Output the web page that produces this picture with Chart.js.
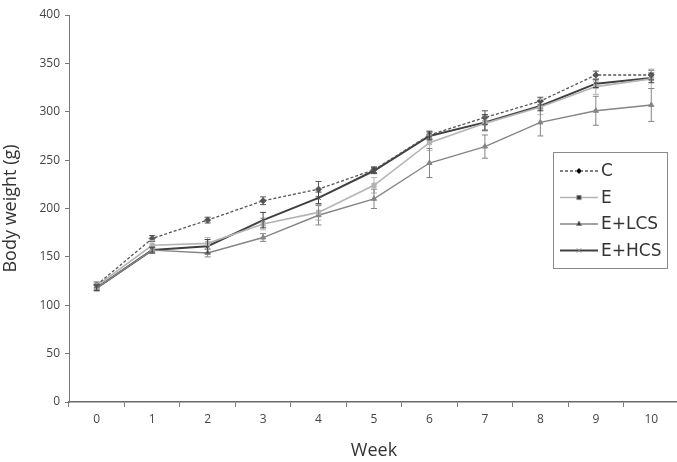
<!DOCTYPE html>
<html>
<head>
<meta charset="utf-8">
<script src="https://cdn.jsdelivr.net/npm/chart.js@4"></script>
<style>
  html, body { margin: 0; padding: 0; background: #fff; overflow: hidden; }
  #wrap { position: relative; width: 684px; height: 462px; }
</style>
</head>
<body>
<div id="wrap"><canvas id="chart"></canvas></div>
<script>
// weeks on the x axis
const weeks = ['0', '1', '2', '3', '4', '5', '6', '7', '8', '9', '10'];

// mean body weight (g) per group
const cValues    = [121, 169, 188, 208, 220, 240, 276, 294, 311, 338, 338];
const eValues    = [120, 162, 164, 184, 196, 224, 268, 288, 305, 326, 334];
const lcsValues  = [118, 157, 154, 170, 193, 210, 247, 264, 289, 301, 307];
const hcsValues  = [118, 157, 161, 188, 211, 239, 275, 289, 306, 329, 335];

// error bar half-widths (g)
const cErr   = [3, 3, 3, 4, 8, 3, 4, 7, 4, 4, 5];
const eErr   = [3, 5, 6, 6, 8, 8, 8, 8, 8, 8, 10];
const lcsErr = [3, 3, 4, 4, 10, 10, 15, 12, 14, 15, 17];
const hcsErr = [3, 3, 7, 8, 6, 3, 4, 8, 5, 4, 5];

const yTicks = [0, 50, 100, 150, 200, 250, 300, 350, 400];

const FONT = '"Open Sans", "DejaVu Sans", sans-serif';

// vertical error bars drawn from the value scale
const errorBars = {
    id: 'errorBars',
    afterDatasetsDraw(chart) {
        const ctx = chart.ctx;
        const yScale = chart.scales.y;
        chart.data.datasets.forEach((ds, di) => {
            if (!ds.errors) return;
            const meta = chart.getDatasetMeta(di);
            ctx.save();
            ctx.strokeStyle = ds.borderColor;
            ctx.lineWidth = 1;
            meta.data.forEach((pt, i) => {
                const top = yScale.getPixelForValue(ds.data[i] + ds.errors[i]);
                const bot = yScale.getPixelForValue(ds.data[i] - ds.errors[i]);
                ctx.beginPath();
                ctx.moveTo(pt.x, top); ctx.lineTo(pt.x, bot);
                ctx.moveTo(pt.x - 3, top); ctx.lineTo(pt.x + 3, top);
                ctx.moveTo(pt.x - 3, bot); ctx.lineTo(pt.x + 3, bot);
                ctx.stroke();
            });
            ctx.restore();
        });
    }
};

// boxed legend with line + marker samples
const boxLegend = {
    id: 'boxLegend',
    afterDraw(chart) {
        const ctx = chart.ctx;
        const x0 = 553, y0 = 152, w = 114, h = 116;
        ctx.save();
        ctx.strokeStyle = '#8a8a8a';
        ctx.lineWidth = 1;
        ctx.strokeRect(x0 + 0.5, y0 + 0.5, w, h);
        chart.data.datasets.forEach((ds, i) => {
            const y = y0 + 19 + i * 26.5;
            ctx.save();
            ctx.strokeStyle = ds.borderColor;
            ctx.lineWidth = ds.borderWidth;
            ctx.setLineDash(ds.borderDash || []);
            ctx.beginPath();
            ctx.moveTo(x0 + 7, y); ctx.lineTo(x0 + 45, y);
            ctx.stroke();
            ctx.restore();
            Chart.helpers.drawPoint(ctx, {
                pointStyle: ds.pointStyle,
                radius: ds.pointRadius,
                borderWidth: 1
            }, x0 + 26, y);
            ctx.fillStyle = '#333';
            ctx.font = '17px "DejaVu Sans", sans-serif';
            ctx.textBaseline = 'middle';
            ctx.fillText(ds.label, x0 + 48, y + 1);
        });
        ctx.restore();
    }
};

function series(label, data, errors, color, width, style, dash) {
    return {
        label, data, errors,
        borderColor: color,
        backgroundColor: color,
        pointBackgroundColor: color,
        pointBorderColor: color,
        borderWidth: width,
        borderDash: dash,
        pointStyle: style,
        pointRadius: 3,
        pointBorderWidth: 1,
        tension: 0,
        fill: false
    };
}

new Chart(document.getElementById('chart'), {
    type: 'line',
    data: {
        labels: weeks,
        datasets: [
            series('C', cValues, cErr, '#555555', 1.3, 'rectRot', [3, 2]),
            series('E', eValues, eErr, '#b4b4b4', 1.6, 'rect', []),
            series('E+LCS', lcsValues, lcsErr, '#858585', 1.4, 'triangle', []),
            series('E+HCS', hcsValues, hcsErr, '#404040', 2, 'crossRot', [])
        ]
    },
    options: {
        responsive: true,
        maintainAspectRatio: false,
        animation: false,
        layout: { padding: { top: 15, right: 3, left: 0, bottom: 0 } },
        plugins: {
            legend: { display: false },
            tooltip: { enabled: false }
        },
        scales: {
            x: {
                type: 'category',
                offset: true,
                afterFit: (s) => { s.height = 60; },
                border: { display: true, color: '#6a6a6a', width: 1.5 },
                grid: { display: true, drawOnChartArea: false, drawTicks: true, tickLength: 5, color: '#7a7a7a', offset: true },
                ticks: { color: '#444', font: { family: FONT, size: 12 }, padding: 5, maxRotation: 0 },
                title: { display: true, text: 'Week', color: '#333', font: { family: FONT, size: 18 }, padding: { top: 0, bottom: 0 } }
            },
            y: {
                min: 0,
                max: 400,
                afterFit: (s) => { s.width = 69; },
                afterBuildTicks: (s) => { s.ticks = yTicks.map(v => ({ value: v })); },
                border: { display: true, color: '#7a7a7a', width: 1 },
                grid: { display: true, drawOnChartArea: false, drawTicks: true, tickLength: 4, color: '#7a7a7a' },
                ticks: { color: '#444', font: { family: FONT, size: 12 }, padding: 5 },
                title: { display: true, text: 'Body weight (g)', color: '#333', font: { family: FONT, size: 18 }, padding: { top: 0, bottom: 6 } }
            }
        }
    },
    plugins: [errorBars, boxLegend]
});
</script>
</body>
</html>
